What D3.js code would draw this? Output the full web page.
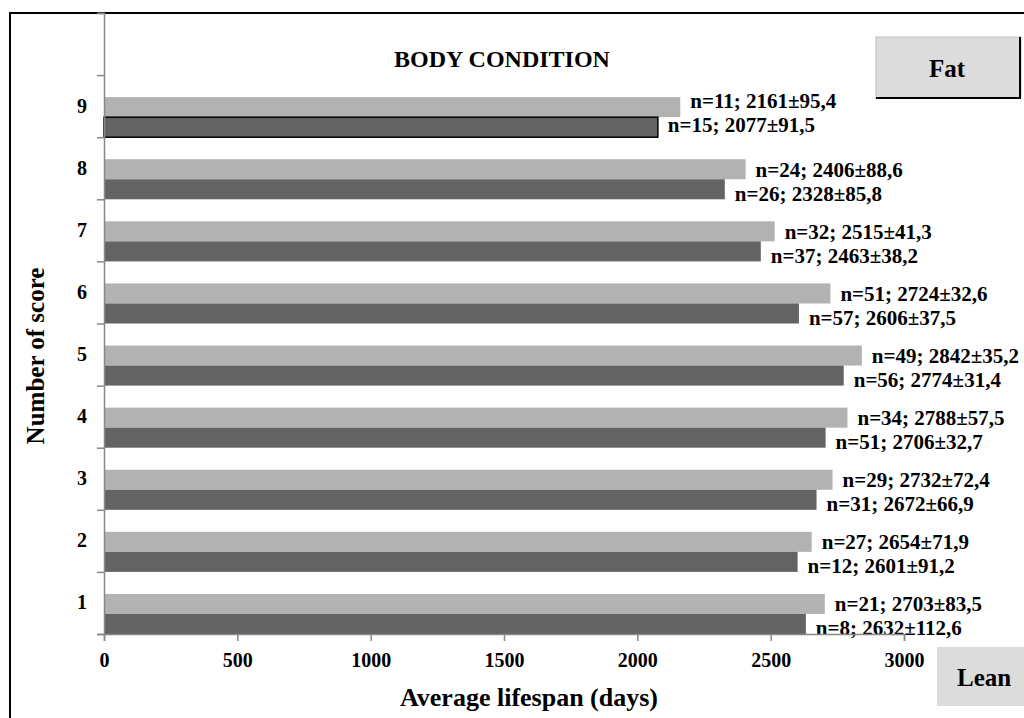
<!DOCTYPE html>
<html>
<head>
<meta charset="utf-8">
<script src="https://cdn.jsdelivr.net/npm/d3@7"></script>
<style>
  html, body { margin: 0; padding: 0; background: #fff; }
  svg { display: block; }
  text { font-family: "Liberation Serif", "Times New Roman", serif; font-weight: bold; fill: #000; }
</style>
</head>
<body>
<script>
// ---- data ----
const categories = ["1", "2", "3", "4", "5", "6", "7", "8", "9"];
const lightMeans = [2703, 2654, 2732, 2788, 2842, 2724, 2515, 2406, 2161];
const lightN     = [21, 27, 29, 34, 49, 51, 32, 24, 11];
const lightSE    = [83.5, 71.9, 72.4, 57.5, 35.2, 32.6, 41.3, 88.6, 95.4];
const darkMeans  = [2632, 2601, 2672, 2706, 2774, 2606, 2463, 2328, 2077];
const darkN      = [8, 12, 31, 51, 56, 57, 37, 26, 15];
const darkSE     = [112.6, 91.2, 66.9, 32.7, 31.4, 37.5, 38.2, 85.8, 91.5];
const xTicks     = [0, 500, 1000, 1500, 2000, 2500, 3000];
const titleText  = "BODY CONDITION";
const xTitle     = "Average lifespan (days)";
const yTitle     = "Number of score";
const topLabel   = "Fat";
const bottomLabel = "Lean";

// ---- layout ----
const W = 1024, H = 718;
const pL = 104, pR = 904, pT = 13, pB = 634;

const svg = d3.select("body").append("svg").attr("width", W).attr("height", H);

// frame
svg.append("rect").attr("x", 10).attr("y", 13).attr("width", 1040).attr("height", 740)
  .attr("fill", "none").attr("stroke", "#000").attr("stroke-width", 2);

const x = d3.scaleLinear().domain([0, 3000]).range([pL, pR]);
// band scale with an empty top slot
const yDomain = [""].concat(categories.slice().reverse());
const y = d3.scaleBand().domain(yDomain).range([pT, pB]).padding(0);
const yLin = d3.scaleLinear().domain([0, yDomain.length]).range([pB, pT]);

const bw = y.bandwidth();
const barH = bw * 20 / 62;

const fmt = v => String(v.toFixed(1)).replace(".", ",");

const rows = categories.map((c, i) => ({
  c, lm: lightMeans[i], ln: lightN[i], ls: lightSE[i],
  dm: darkMeans[i], dn: darkN[i], ds: darkSE[i]
}));

const g = svg.append("g");
g.selectAll("rect.light").data(rows).enter().append("rect")
  .attr("class", "light")
  .attr("x", x(0))
  .attr("y", d => y(d.c) + bw - 2 * barH)
  .attr("width", d => x(d.lm) - x(0))
  .attr("height", barH)
  .attr("fill", "#b2b2b2");

g.selectAll("rect.dark").data(rows).enter().append("rect")
  .attr("class", "dark")
  .attr("x", x(0))
  .attr("y", d => y(d.c) + bw - barH)
  .attr("width", d => x(d.dm) - x(0))
  .attr("height", barH)
  .attr("fill", "#636363")
  .attr("stroke", d => d.c === "9" ? "#000" : "none")
  .attr("stroke-width", 1.5);

g.selectAll("text.llab").data(rows).enter().append("text")
  .attr("class", "llab")
  .attr("x", d => x(d.lm) + 10)
  .attr("y", d => y(d.c) + bw - 1.5 * barH - (d.c === "9" ? 7 : 0))
  .attr("dy", "0.35em")
  .attr("font-size", 21)
  .text(d => `n=${d.ln}; ${d.lm}±${fmt(d.ls)}`);

g.selectAll("text.dlab").data(rows).enter().append("text")
  .attr("class", "dlab")
  .attr("x", d => x(d.dm) + 10)
  .attr("y", d => y(d.c) + bw - 0.5 * barH + (d.c === "9" ? -3 : 4))
  .attr("dy", "0.35em")
  .attr("font-size", 21)
  .text(d => `n=${d.dn}; ${d.dm}±${fmt(d.ds)}`);

// y axis (ticks at category boundaries)
const yAx = svg.append("g").attr("transform", `translate(${pL},0)`)
  .call(d3.axisLeft(yLin).ticks(yDomain.length).tickSize(7).tickFormat(""));
yAx.select(".domain").attr("stroke", "#888").attr("stroke-width", 1.5);
yAx.selectAll(".tick line").attr("stroke", "#888").attr("stroke-width", 1.5);

// y category labels
const yLab = svg.append("g").attr("transform", `translate(${pL},0)`)
  .call(d3.axisLeft(y).tickValues(categories).tickSize(0).tickPadding(17));
yLab.select(".domain").remove();
yLab.selectAll("text").attr("font-size", 20)
  .style("font-family", '"Liberation Serif", "Times New Roman", serif')
  .style("font-weight", "bold").attr("fill", "#000");

// x axis
const xAx = svg.append("g").attr("transform", `translate(0,${pB})`)
  .call(d3.axisBottom(x).tickValues(xTicks).tickSize(7).tickPadding(12).tickFormat(d3.format("d")));
xAx.select(".domain").attr("stroke", "#888").attr("stroke-width", 1.5);
xAx.selectAll(".tick line").attr("stroke", "#888").attr("stroke-width", 1.5);
xAx.selectAll("text").attr("font-size", 20)
  .style("font-family", '"Liberation Serif", "Times New Roman", serif')
  .style("font-weight", "bold").attr("fill", "#000");

// title
svg.append("text").attr("x", 502).attr("y", 67).attr("text-anchor", "middle")
  .attr("font-size", 24).text(titleText);

// axis titles
svg.append("text").attr("x", 529).attr("y", 706).attr("text-anchor", "middle")
  .attr("font-size", 26).text(xTitle);
svg.append("text").attr("transform", "translate(44,356) rotate(-90)")
  .attr("text-anchor", "middle").attr("font-size", 25).text(yTitle);

// Fat box
const fat = svg.append("g");
fat.append("rect").attr("x", 876).attr("y", 37).attr("width", 145).attr("height", 61)
  .attr("fill", "#dcdcdc").attr("stroke", "#bdbdbd").attr("stroke-width", 1);
fat.append("line").attr("x1", 1020).attr("x2", 1020).attr("y1", 37).attr("y2", 99)
  .attr("stroke", "#000").attr("stroke-width", 2);
fat.append("line").attr("x1", 876).attr("x2", 1021).attr("y1", 98).attr("y2", 98)
  .attr("stroke", "#000").attr("stroke-width", 2);
fat.append("text").attr("x", 947).attr("y", 77).attr("text-anchor", "middle")
  .attr("font-size", 25).text(topLabel);

// Lean box
const lean = svg.append("g");
lean.append("rect").attr("x", 937).attr("y", 647).attr("width", 100).attr("height", 59)
  .attr("fill", "#dcdcdc");
lean.append("text").attr("x", 957).attr("y", 686)
  .attr("font-size", 25).text(bottomLabel);
</script>
</body>
</html>
